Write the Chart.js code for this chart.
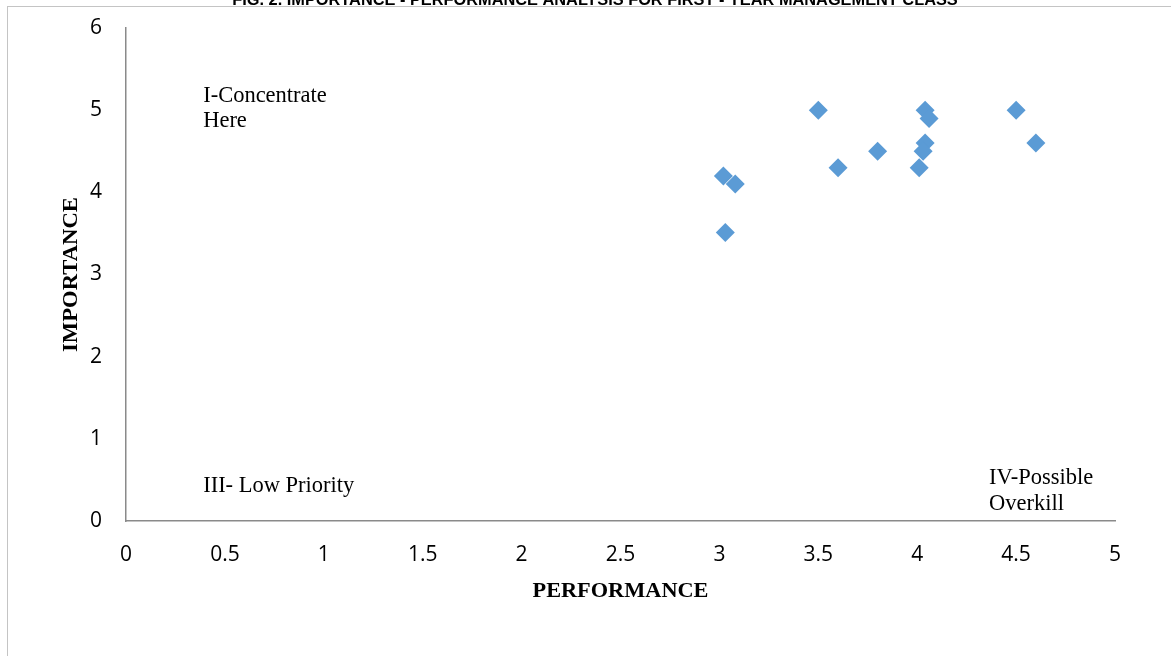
<!DOCTYPE html>
<html>
<head>
<meta charset="utf-8">
<script src="https://cdn.jsdelivr.net/npm/chart.js@4.4.0/dist/chart.umd.min.js"></script>
<style>
  html, body { margin: 0; padding: 0; background: #fff; }
  #wrap { width: 1171px; height: 656px; position: relative; }
</style>
</head>
<body>
<div id="wrap"><canvas id="ipaChart"></canvas></div>
<script>
// performance (x) and importance (y) per item
const performance = [3.50, 4.04, 4.06, 4.50, 4.60, 3.02, 3.08, 3.03, 3.60, 3.80, 4.04, 4.03, 4.01];
const importance  = [5.00, 5.00, 4.90, 5.00, 4.60, 4.20, 4.10, 3.51, 4.30, 4.50, 4.60, 4.50, 4.30];
const xTicks = ['0', '0.5', '1', '1.5', '2', '2.5', '3', '3.5', '4', '4.5', '5'];
const yTicks = ['0', '1', '2', '3', '4', '5', '6'];
const figTitle = 'FIG. 2. IMPORTANCE - PERFORMANCE ANALYSIS FOR FIRST - YEAR MANAGEMENT CLASS';
const quadrants = [
    { lines: ['I-Concentrate', 'Here'], x: 0.39, y: 5.105 },
    { lines: ['III- Low Priority'], x: 0.39, y: 0.353 },
    { lines: ['IV-Possible', 'Overkill'], x: 4.363, y: 0.447 }
];

const points = performance.map((p, i) => ({ x: p, y: importance[i] }));

// draws the frame, the cut-off caption, axis titles and quadrant notes
const extras = {
    id: 'extras',
    afterDraw(chart) {
        const ctx = chart.ctx;
        const area = chart.chartArea;
        const xs = chart.scales.x, ys = chart.scales.y;
        ctx.save();
        ctx.strokeStyle = '#c4c4c4';
        ctx.lineWidth = 1;
        ctx.strokeRect(7.5, 6.5, 1300, 800);

        ctx.fillStyle = '#000';
        ctx.font = 'bold 10px "Liberation Sans", Arial, sans-serif';
        let w = ctx.measureText(figTitle).width;
        ctx.font = 'bold ' + (10 * 726 / w).toFixed(2) + 'px "Liberation Sans", Arial, sans-serif';
        ctx.textAlign = 'center';
        ctx.textBaseline = 'alphabetic';
        ctx.fillText(figTitle, 595, 4.5);

        ctx.font = 'bold 20px "Liberation Serif", "Times New Roman", serif';
        w = ctx.measureText('PERFORMANCE').width;
        ctx.save();
        ctx.translate((area.left + area.right) / 2, 596.5);
        ctx.scale(176 / w, 1);
        ctx.fillText('PERFORMANCE', 0, 0);
        ctx.restore();

        w = ctx.measureText('IMPORTANCE').width;
        ctx.save();
        ctx.translate(77, (area.top + area.bottom) / 2);
        ctx.rotate(-Math.PI / 2);
        ctx.scale(155 / w, 1);
        ctx.fillText('IMPORTANCE', 0, 0);
        ctx.restore();

        ctx.font = '22.5px "Liberation Serif", "Times New Roman", serif';
        ctx.textAlign = 'left';
        quadrants.forEach(q => {
            const px = xs.getPixelForValue(q.x);
            const py = ys.getPixelForValue(q.y);
            q.lines.forEach((line, k) => ctx.fillText(line, px, py + k * 25.5));
        });
        ctx.restore();
    }
};

const ctx = document.getElementById('ipaChart').getContext('2d');
const ipaChart = new Chart(ctx, {
    type: 'scatter',
    data: {
        datasets: [{
            label: 'Items',
            data: points,
            pointStyle: 'rectRot',
            pointRadius: 9.5,
            pointHoverRadius: 9.5,
            backgroundColor: '#5b9bd5',
            borderColor: '#5b9bd5',
            borderWidth: 0
        }]
    },
    options: {
        responsive: true,
        maintainAspectRatio: false,
        animation: false,
        layout: { padding: { left: 0, right: 56, top: 28, bottom: 0 } },
        plugins: {
            legend: { display: false },
            tooltip: { enabled: false }
        },
        scales: {
            x: {
                type: 'linear',
                min: 0,
                max: 5,
                afterFit: s => { s.height = 135; s.paddingLeft = 0; s.paddingRight = 0; },
                afterBuildTicks: s => { s.ticks = xTicks.map(t => ({ value: Number(t) })); },
                grid: { display: false, drawTicks: false },
                border: { display: true, color: '#8a8a8a', width: 1.5 },
                ticks: {
                    padding: 21,
                    color: '#000',
                    font: { family: '"Open Sans", sans-serif', size: 21 },
                    callback: (v, i) => xTicks[i]
                }
            },
            y: {
                type: 'linear',
                min: 0,
                max: 6,
                afterFit: s => { s.width = 126; s.paddingTop = 0; s.paddingBottom = 0; },
                afterBuildTicks: s => { s.ticks = yTicks.map(t => ({ value: Number(t) })); },
                grid: { display: false, drawTicks: false },
                border: { display: true, color: '#8a8a8a', width: 1.5 },
                ticks: {
                    padding: 24,
                    color: '#000',
                    font: { family: '"Open Sans", sans-serif', size: 21 },
                    callback: (v, i) => yTicks[i]
                }
            }
        }
    },
    plugins: [extras]
});
</script>
</body>
</html>
